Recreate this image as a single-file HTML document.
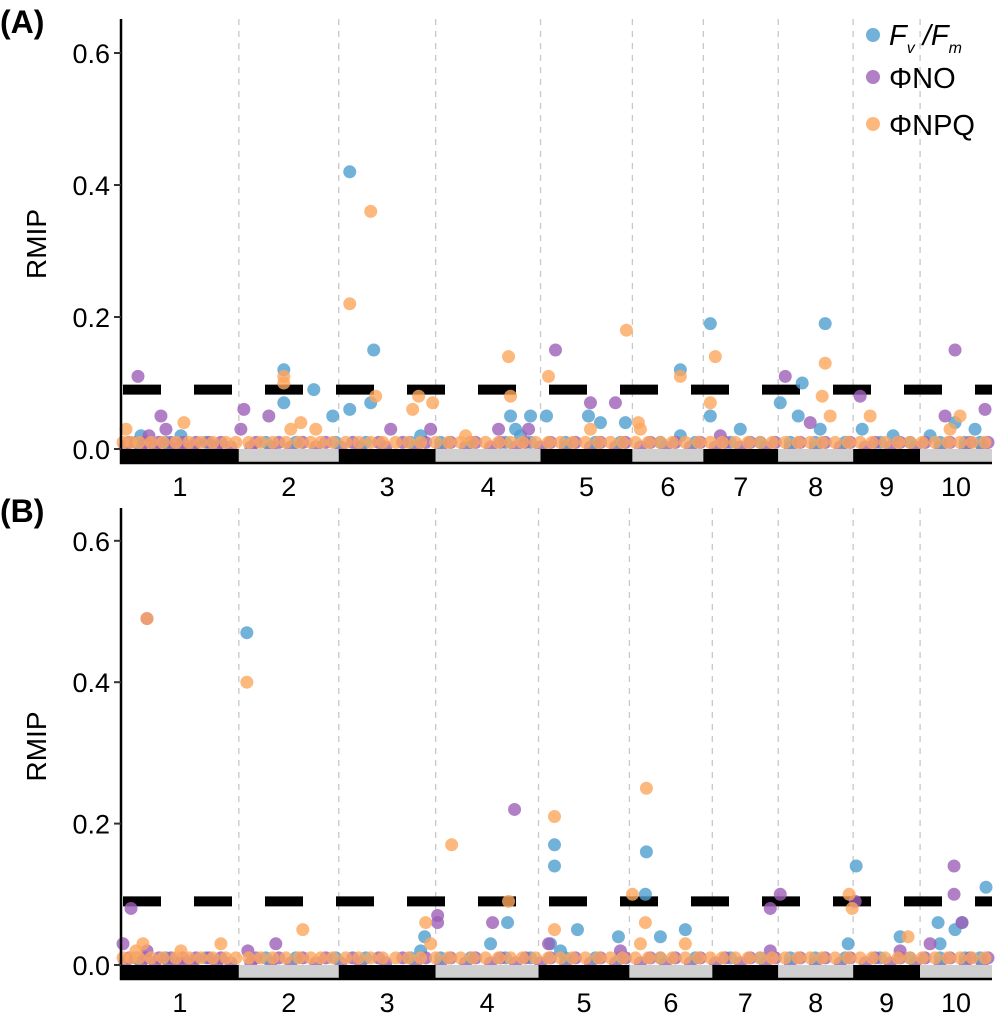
<!DOCTYPE html>
<html><head><meta charset="utf-8"><style>
body{margin:0;background:#fff}
svg{display:block;font-family:"Liberation Sans",Arial,sans-serif}
</style></head><body>
<svg id="chart" width="996" height="1031" viewBox="0 0 996 1031" xmlns="http://www.w3.org/2000/svg"></svg>
<script>
// genome position units: 0..872 across chromosomes 1-10
const chromStartsA=[0,118,218,315,420,512,583,658,733,800,872];
const chromStartsB=[0,118,218,315,418,509,592,658,733,800,872];
const chromLabels=["1","2","3","4","5","6","7","8","9","10"];
const yTicks=[0.0,0.2,0.4,0.6];
const threshold=0.09;
// Panel A series [pos, RMIP]
const aFv=[[229,0.42],[253,0.15],[163,0.12],[163,0.07],[193,0.09],[590,0.19],[705,0.19],[560,0.12],[682,0.10],[229,0.06],[250,0.07],[212,0.05],[390,0.05],[410,0.05],[426,0.05],[468,0.05],[590,0.05],[660,0.07],[678,0.05],[835,0.04],[855,0.03],[742,0.03],[773,0.02],[480,0.04],[505,0.04],[20,0.02],[60,0.02],[300,0.02],[560,0.02],[620,0.03],[700,0.03],[810,0.02],[395,0.03],[400,0.02]];
const aNO=[[17,0.11],[435,0.15],[835,0.15],[665,0.11],[40,0.05],[123,0.06],[148,0.05],[495,0.07],[470,0.07],[740,0.08],[825,0.05],[865,0.06],[378,0.03],[310,0.03],[28,0.02],[408,0.03],[45,0.03],[120,0.03],[270,0.03],[690,0.04],[600,0.02]];
const aNPQ=[[250,0.36],[229,0.22],[506,0.18],[388,0.14],[595,0.14],[705,0.13],[428,0.11],[560,0.11],[163,0.10],[163,0.11],[255,0.08],[298,0.08],[312,0.07],[390,0.08],[518,0.04],[590,0.07],[702,0.08],[750,0.05],[840,0.05],[292,0.06],[180,0.04],[195,0.03],[5,0.03],[63,0.04],[170,0.03],[520,0.03],[710,0.05],[830,0.03],[345,0.02],[470,0.03]];
const aBaseNPQ=[2,10,18,30,42,55,68,80,92,105,115,128,140,152,165,178,190,200,212,225,238,250,262,275,288,300,315,328,340,352,365,378,390,402,415,428,440,452,465,478,490,502,515,528,540,552,565,578,590,602,615,628,640,652,665,678,690,702,715,728,740,752,765,778,790,802,815,828,840,852,865];
const aBaseNO=[8,25,38,50,62,75,88,100,135,158,182,205,232,258,282,305,330,355,380,405,430,455,480,505,530,555,580,605,630,655,680,705,730,755,780,805,830,850,868];
const aBaseFv=[15,45,85,145,175,215,245,290,320,350,385,410,445,475,500,540,575,610,640,670,695,725,760,790,820,845,860];
const aZeroNO=[4,20,34,48,60,72,96,110,130,150,170,195,220,240,265,295,320,345,370,395,420,445,470,495,520,545,570,595,620,645,670,695,720,745,770,795,820,845,862];
// Panel B series
const bFv=[[126,0.47],[434,0.17],[434,0.14],[526,0.16],[525,0.10],[736,0.14],[866,0.11],[304,0.04],[387,0.06],[370,0.03],[457,0.05],[498,0.04],[540,0.04],[565,0.05],[818,0.06],[835,0.05],[842,0.06],[728,0.03],[780,0.04],[440,0.02],[820,0.03],[430,0.03],[300,0.02]];
const bNO=[[26,0.49],[394,0.22],[834,0.14],[834,0.10],[317,0.07],[317,0.06],[372,0.06],[660,0.10],[650,0.08],[735,0.09],[842,0.06],[2,0.03],[10,0.08],[26,0.02],[127,0.02],[428,0.03],[155,0.03],[500,0.02],[650,0.02],[780,0.02],[810,0.03]];
const bNPQ=[[26,0.49],[126,0.40],[526,0.25],[434,0.21],[331,0.17],[512,0.10],[388,0.09],[434,0.05],[729,0.10],[182,0.05],[305,0.06],[525,0.06],[15,0.02],[22,0.03],[100,0.03],[788,0.04],[520,0.03],[565,0.03],[310,0.03],[732,0.08],[60,0.02]];
const bBaseNPQ=aBaseNPQ.slice();
const bBaseNO=aBaseNO.slice();
const bBaseFv=aBaseFv.slice();
const bZeroNO=aZeroNO.slice();

const NS="http://www.w3.org/2000/svg";
const svg=document.getElementById('chart');
function mk(tag,attrs,parent){const e=document.createElementNS(NS,tag);for(const k in attrs)e.setAttribute(k,attrs[k]);(parent||svg).appendChild(e);return e;}
const X0=121,X1=992;
const xScale=p=>X0+(p/872)*(X1-X0);
const COL={fv:"#4f9fcf",no:"#9c5fb8",npq:"#fda65e"};

function panel(cfg){
  const g=mk('g',{});
  
  
  const y=v=>cfg.y0-v*cfg.k;
  for(let i=1;i<10;i++){
    const l=mk('line',{x1:xScale(cfg.starts[i]),x2:xScale(cfg.starts[i]),y1:cfg.top,y2:cfg.y0,stroke:"#c8c8c8","stroke-width":1.3,"stroke-dasharray":"6,6"},g);
    
    
  }
  const th=mk('line',{x1:X0+2,x2:X1,y1:y(threshold),y2:y(threshold),stroke:"#000","stroke-width":10,"stroke-dasharray":"38,33"},g);
  
  
  function pts(arr,col,nm){arr.forEach(d=>{const c=mk('circle',{cx:xScale(d[0]),cy:y(d[1]),r:6.5,fill:col,"fill-opacity":0.8},g);
    
    });}
  pts(cfg.zeroNO.map(p=>[p,0.003]),COL.no,'phino-point');
  pts(cfg.baseFv.map(p=>[p,0.01]),COL.fv,'fv-fm-point');
  pts(cfg.fv,COL.fv,'fv-fm-point');
  pts(cfg.baseNO.map(p=>[p,0.01]),COL.no,'phino-point');
  pts(cfg.no,COL.no,'phino-point');
  pts(cfg.baseNPQ.map(p=>[p,0.01]),COL.npq,'phinpq-point');
  pts(cfg.npq,COL.npq,'phinpq-point');
  for(let i=0;i<10;i++){
    const r=mk('rect',{x:xScale(cfg.starts[i]),y:cfg.y0,width:xScale(cfg.starts[i+1])-xScale(cfg.starts[i]),height:cfg.bot-cfg.y0,fill:i%2?"#d0d0d0":"#000"},g);
    
    
    const t=mk('text',{x:(xScale(cfg.starts[i])+xScale(cfg.starts[i+1]))/2,y:cfg.bot+34,"font-size":27,"text-anchor":"middle",fill:"#000"},g);
    t.textContent=chromLabels[i];
    
    
  }
  const ax=mk('path',{d:`M${X0},${cfg.top} V${cfg.bot+1} H${X1}`,fill:"none",stroke:"#000","stroke-width":2.5},g);
  
  
  yTicks.forEach(v=>{
    mk('line',{x1:X0-7,x2:X0,y1:y(v),y2:y(v),stroke:"#333","stroke-width":2},g);
    const t=mk('text',{x:X0-11,y:y(v)+10,"font-size":27,"text-anchor":"end",fill:"#000"},g);
    t.textContent=v.toFixed(1);
    
    
  });
  const yt=mk('text',{x:0,y:0,"font-size":28,"text-anchor":"middle",transform:`translate(46,${(cfg.top+cfg.y0)/2+10}) rotate(-90)`},g);
  yt.textContent="RMIP";
  
  
  const pl=mk('text',{x:0,y:cfg.top+14,"font-size":32,"font-weight":"bold"},g);
  pl.textContent=cfg.label;
  
  
}
panel({name:'panel-a',label:'(A)',starts:chromStartsA,top:19,y0:449,bot:462,k:660,fv:aFv,no:aNO,npq:aNPQ,baseFv:aBaseFv,baseNO:aBaseNO,baseNPQ:aBaseNPQ,zeroNO:aZeroNO});
panel({name:'panel-b',label:'(B)',starts:chromStartsB,top:508,y0:965,bot:978,k:707,fv:bFv,no:bNO,npq:bNPQ,baseFv:bBaseFv,baseNO:bBaseNO,baseNPQ:bBaseNPQ,zeroNO:bZeroNO});

const lg=mk('g',{});


[["fv",35],["no",77],["npq",124]].forEach(([k,yy])=>{
  const c=mk('circle',{cx:873,cy:yy,r:7,fill:COL[k],"fill-opacity":0.8},lg);
  
  
});
const l1=mk('text',{x:889,y:45,"font-size":29},lg);
l1.innerHTML='<tspan font-style="italic">F</tspan><tspan font-style="italic" font-size="16" dy="8">v</tspan><tspan dy="-8" font-style="italic"> /F</tspan><tspan font-style="italic" font-size="16" dy="8">m</tspan>';


const l2=mk('text',{x:889,y:88,"font-size":29},lg);l2.textContent="ΦNO";


const l3=mk('text',{x:889,y:135,"font-size":29},lg);l3.textContent="ΦNPQ";


</script>
</body></html>
